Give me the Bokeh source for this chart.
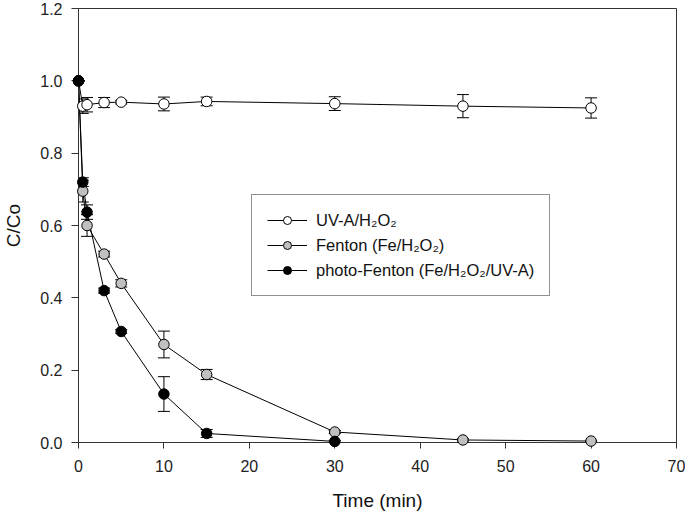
from bokeh.plotting import figure
from bokeh.models import (ColumnDataSource, Whisker, TeeHead, Legend, LegendItem,
                          Range1d, FixedTicker)
from bokeh.embed import file_html
from bokeh.resources import INLINE

# ---- data ----
time_uv = [0, 0.5, 1, 3, 5, 10, 15, 30, 45, 60]
uv = [1.0, 0.930, 0.934, 0.940, 0.941, 0.936, 0.943, 0.937, 0.930, 0.925]
uv_err = [0.0, 0.020, 0.020, 0.014, 0.005, 0.019, 0.012, 0.019, 0.032, 0.028]

time_f = [0, 0.5, 1, 3, 5, 10, 15, 30, 45, 60]
fenton = [1.0, 0.695, 0.600, 0.521, 0.440, 0.271, 0.188, 0.029, 0.007, 0.004]
fenton_err = [0.0, 0.030, 0.030, 0.008, 0.010, 0.037, 0.014, 0.004, 0.003, 0.002]

time_p = [0, 0.5, 1, 3, 5, 10, 15, 30]
photo = [1.0, 0.720, 0.637, 0.420, 0.307, 0.134, 0.025, 0.003]
photo_err = [0.0, 0.012, 0.020, 0.007, 0.005, 0.048, 0.011, 0.002]

labels = ["UV-A/H\u2082O\u2082", "Fenton (Fe/H\u2082O\u2082)", "photo-Fenton (Fe/H\u2082O\u2082/UV-A)"]
fills = ["white", "#c0c0c0", "black"]

x_ticks = [0, 10, 20, 30, 40, 50, 60, 70]
y_ticks = [0.0, 0.2, 0.4, 0.6, 0.8, 1.0, 1.2]
y_tick_labels = ["0.0", "0.2", "0.4", "0.6", "0.8", "1.0", "1.2"]

FONT = "Liberation Sans"
AX = "#333333"

p = figure(width=685, height=516, output_backend="svg", toolbar_location=None,
           x_range=Range1d(0, 70), y_range=Range1d(0, 1.2),
           min_border_left=74, min_border_right=9, min_border_top=8, min_border_bottom=74)
p.xgrid.grid_line_color = None
p.ygrid.grid_line_color = None
p.outline_line_color = AX
p.outline_line_width = 1
p.background_fill_color = "white"
p.border_fill_color = "white"

for ax in (p.xaxis[0], p.yaxis[0]):
    ax.axis_line_color = AX
    ax.major_tick_line_color = AX
    ax.minor_tick_line_color = None
    ax.major_tick_in = 0
    ax.major_label_text_font = FONT
    ax.major_label_text_font_size = "16px"
    ax.major_label_text_color = "#222222"
    ax.axis_label_text_font = FONT
    ax.axis_label_text_font_style = "normal"
    ax.axis_label_text_font_size = "19px"
    ax.axis_label_text_color = "#111111"

p.xaxis.ticker = FixedTicker(ticks=x_ticks)
p.yaxis.ticker = FixedTicker(ticks=y_ticks)
p.yaxis.major_label_overrides = {v: s for v, s in zip(y_ticks, y_tick_labels)}
p.xaxis.major_tick_out = 6
p.yaxis.major_tick_out = 7
p.xaxis.major_label_standoff = 11
p.yaxis.major_label_standoff = 9
p.xaxis.axis_label = "Time (min)"
p.yaxis.axis_label = "C/Co"
p.xaxis.axis_label_standoff = 15
p.yaxis.axis_label_standoff = 13

series = [(time_uv, uv, uv_err), (time_f, fenton, fenton_err), (time_p, photo, photo_err)]
items = []
sources = []
for (t, v, e) in series:
    src = ColumnDataSource(dict(t=t, v=v, lo=[a - b for a, b in zip(v, e)],
                                hi=[a + b for a, b in zip(v, e)]))
    sources.append(src)
    w = Whisker(source=src, base="t", upper="hi", lower="lo", dimension="height",
                line_color="black", line_width=1,
                upper_head=TeeHead(size=12, line_color="black", line_width=1),
                lower_head=TeeHead(size=12, line_color="black", line_width=1))
    p.add_layout(w)

for src, fc, lab in zip(sources, fills, labels):
    lr = p.line("t", "v", source=src, line_color="black", line_width=1)
    sr = p.scatter("t", "v", source=src, size=10.5, fill_color=fc, line_color="black",
                   line_width=1, level="overlay")
    items.append(LegendItem(label=lab, renderers=[lr, sr]))

legend = Legend(items=items, location=(173, 146))
legend.label_text_font = FONT
legend.label_text_font_size = "16.5px"
legend.label_text_color = "#111111"
legend.glyph_width = 40
legend.label_standoff = 9
legend.padding = 15
legend.spacing = 5
legend.label_height = 20
legend.glyph_height = 20
legend.border_line_color = "#222222"
legend.border_line_width = 1
legend.background_fill_color = "white"
legend.background_fill_alpha = 1
legend.margin = 0
p.add_layout(legend)

open("out.html", "w").write(file_html(p, INLINE))
